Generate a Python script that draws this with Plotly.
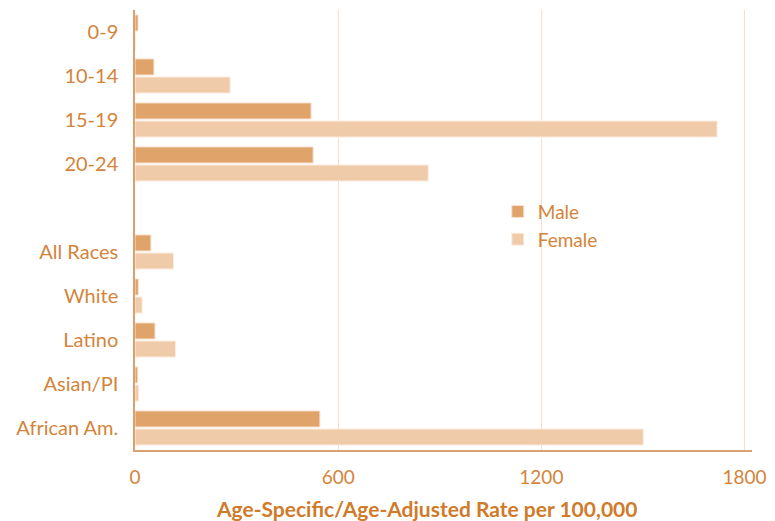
import plotly.graph_objects as go

categories = ["0-9", "10-14", "15-19", "20-24", " ", "All Races", "White", "Latino", "Asian/PI", "African Am."]
male = [9, 56, 520, 526, None, 47, 10, 59, 8, 546]
female = [1, 281, 1719, 866, None, 114, 21, 120, 11, 1501]
x_ticks = [0, 600, 1200, 1800]
x_title = "Age-Specific/Age-Adjusted Rate per 100,000"

text_color = "#d4843a"
fig = go.Figure()
fig.add_trace(go.Bar(y=categories, x=male, orientation="h", name="Male",
                     marker=dict(color="#e0a36a", line=dict(color="#f7e3d0", width=1))))
fig.add_trace(go.Bar(y=categories, x=female, orientation="h", name="Female",
                     marker=dict(color="#efcba9", line=dict(color="#fbeee2", width=1))))

fig.update_layout(
    width=775, height=521,
    margin=dict(l=127, r=31, t=2, b=79),
    plot_bgcolor="white", paper_bgcolor="white",
    barmode="group", bargap=0.18, bargroupgap=0.11,
    font=dict(family="Lato", color=text_color, size=20),
    legend=dict(x=0.588, y=0.585, xanchor="left", yanchor="top",
                font=dict(size=19, color=text_color), itemwidth=30,
                tracegroupgap=0, bgcolor="rgba(0,0,0,0)"),
    showlegend=True,
    annotations=[dict(text="<b>" + x_title + "</b>", xref="paper", yref="paper",
                      x=0.473, y=-0.132, xanchor="center", yanchor="middle",
                      showarrow=False, font=dict(size=21, color="#d07a2a"))],
)
fig.update_xaxes(range=[0, 1822], tickvals=x_ticks, ticktext=[str(v) for v in x_ticks],
                 showgrid=True, gridcolor="#f6dfca", gridwidth=1,
                 showline=True, linecolor="#dba070", linewidth=1.5,
                 zeroline=False, ticklabelstandoff=9, automargin=False,
                 tickfont=dict(size=19, color=text_color))
fig.update_yaxes(autorange="reversed", showgrid=False, automargin=False,
                 showline=True, linecolor="#dba070", linewidth=1.5,
                 ticklabelstandoff=11, tickfont=dict(size=20, color=text_color))

fig.write_html("out.html")
